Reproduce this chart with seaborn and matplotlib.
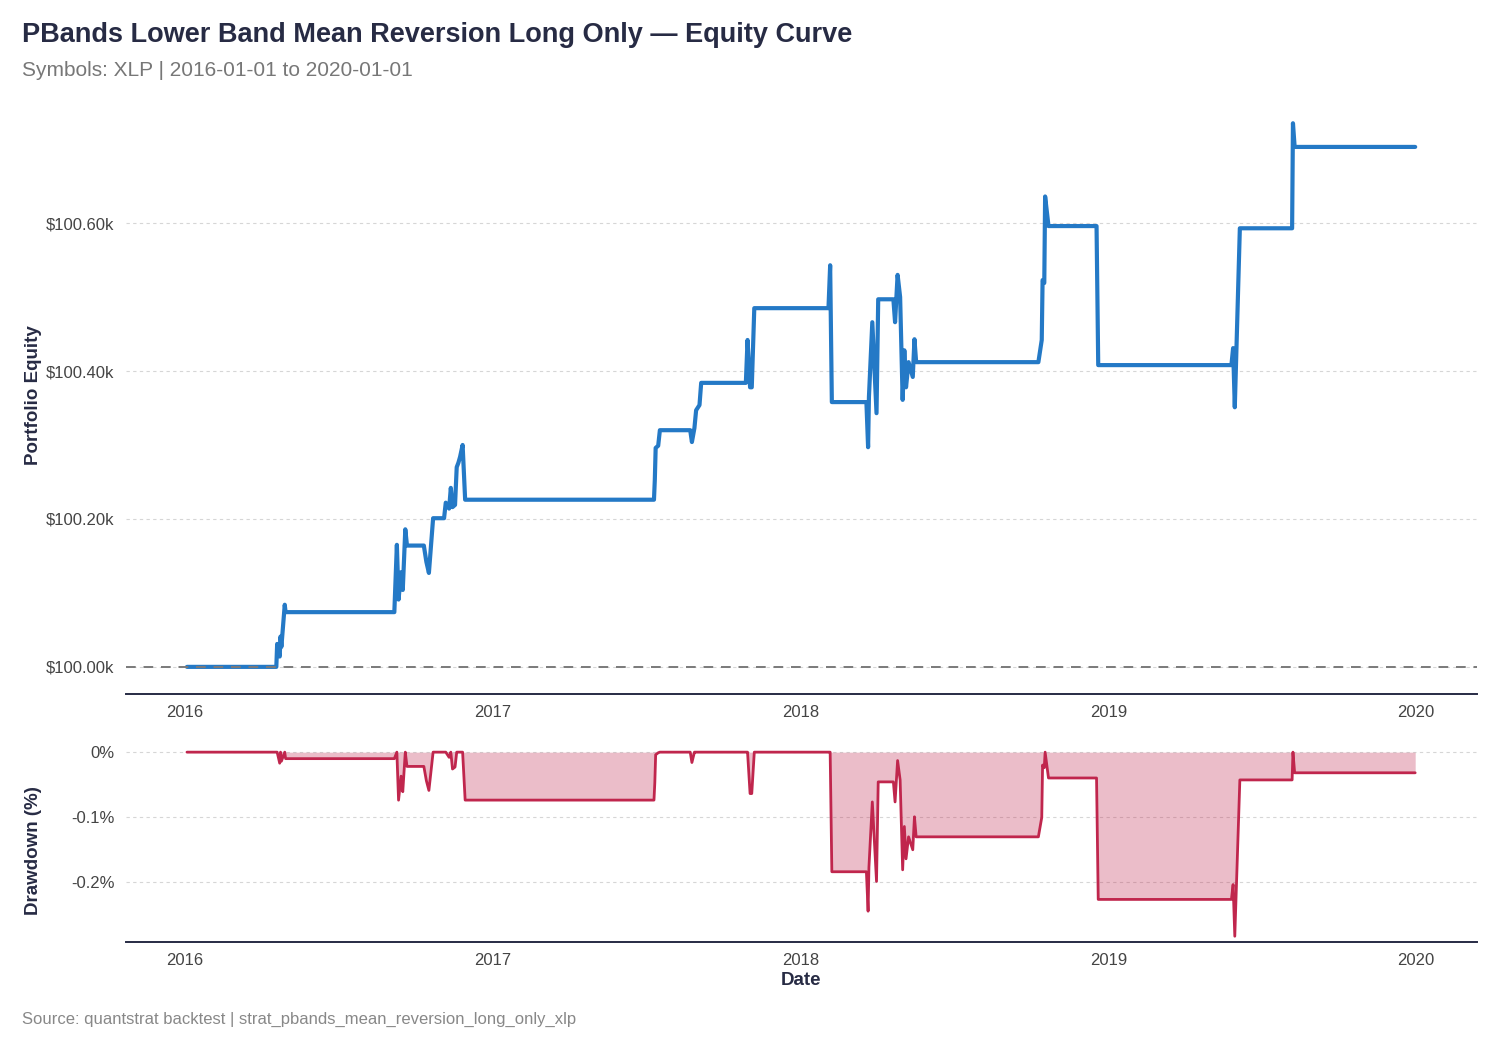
import matplotlib
matplotlib.use("Agg")
import matplotlib.pyplot as plt
import matplotlib.dates as mdates
from matplotlib.ticker import FuncFormatter, FixedLocator
import seaborn as sns
import pandas as pd

# equity curve (date, portfolio value)
dates = [
    "2016-01-04", "2016-04-19", "2016-04-20", "2016-04-23", "2016-04-24", "2016-04-25",
    "2016-04-29", "2016-04-30", "2016-09-06", "2016-09-09", "2016-09-11", "2016-09-14",
    "2016-09-16", "2016-09-19", "2016-09-21", "2016-10-11", "2016-10-14", "2016-10-17",
    "2016-10-22", "2016-11-04", "2016-11-06", "2016-11-10", "2016-11-12", "2016-11-14",
    "2016-11-17", "2016-11-19", "2016-11-21", "2016-11-23", "2016-11-26", "2016-11-29",
    "2017-07-11", "2017-07-12", "2017-07-13", "2017-07-16", "2017-07-18", "2017-08-23",
    "2017-08-25", "2017-08-28", "2017-08-30", "2017-09-03", "2017-09-05", "2017-10-28",
    "2017-10-30", "2017-11-02", "2017-11-04", "2017-11-07", "2018-02-03", "2018-02-05",
    "2018-02-07", "2018-03-20", "2018-03-22", "2018-03-23", "2018-03-27", "2018-04-01",
    "2018-04-03", "2018-04-21", "2018-04-23", "2018-04-26", "2018-04-29", "2018-05-02",
    "2018-05-04", "2018-05-06", "2018-05-09", "2018-05-14", "2018-05-16", "2018-05-18",
    "2018-10-10", "2018-10-14", "2018-10-15", "2018-10-17", "2018-10-18", "2018-10-22",
    "2018-12-18", "2018-12-20", "2019-05-27", "2019-05-29", "2019-05-31", "2019-06-06",
    "2019-08-07", "2019-08-08", "2019-08-10", "2019-12-31",
]
equity = [
    100000, 100000, 100031, 100014, 100041, 100027,
    100084, 100074, 100074, 100165, 100091, 100128,
    100104, 100186, 100164, 100164, 100142, 100127,
    100201, 100201, 100222, 100214, 100242, 100216,
    100219, 100270, 100276, 100284, 100300, 100226,
    100226, 100253, 100296, 100299, 100320, 100320,
    100304, 100323, 100347, 100354, 100384, 100384,
    100442, 100378, 100378, 100485, 100485, 100543,
    100358, 100358, 100297, 100365, 100466, 100343,
    100497, 100497, 100466, 100530, 100500, 100361,
    100428, 100378, 100412, 100392, 100443, 100412,
    100412, 100442, 100523, 100519, 100636, 100596,
    100596, 100408, 100408, 100431, 100351, 100593,
    100593, 100735, 100703, 100703,
]
initial_equity = 100000

df = pd.DataFrame({"Date": pd.to_datetime(dates), "Equity": equity})
df["Drawdown"] = (df["Equity"] / df["Equity"].cummax() - 1) * 100

NAVY = "#272b44"
BLUE = "#2479c6"
RED = "#c0264d"
GRID = "#d6d6d6"

sns.set_theme(style="white")
plt.rcParams["font.family"] = ["Liberation Sans", "DejaVu Sans"]

fig = plt.figure(figsize=(15, 10.5), dpi=100)
ax1 = fig.add_axes([0.0837, 0.339, 0.9007, 0.5695])
ax2 = fig.add_axes([0.0837, 0.1029, 0.9007, 0.1882])

# equity panel
sns.lineplot(data=df, x="Date", y="Equity", ax=ax1, color=BLUE, linewidth=3,
             estimator=None, sort=False)
ax1.axhline(initial_equity, color="#7a7a7a", linestyle=(0, (5, 4)), linewidth=1.4, zorder=3)
ax1.yaxis.set_major_locator(FixedLocator([100000, 100200, 100400, 100600]))
ax1.yaxis.set_major_formatter(FuncFormatter(lambda v, p: f"${v / 1000:.2f}k"))
ax1.set_ylabel("Portfolio Equity", fontsize=13.5, fontweight="bold", color=NAVY)
ax1.set_xlabel("")
ax1.margins(x=0.05, y=0.05)

# drawdown panel
ax2.fill_between(df["Date"], df["Drawdown"], 0, color=RED, alpha=0.3, linewidth=0)
sns.lineplot(data=df, x="Date", y="Drawdown", ax=ax2, color=RED, linewidth=2,
             estimator=None, sort=False)
ax2.yaxis.set_major_locator(FixedLocator([0, -0.1, -0.2]))
ax2.yaxis.set_major_formatter(FuncFormatter(lambda v, p: "0%" if abs(v) < 1e-9 else f"{v:.1f}%"))
ax2.set_ylabel("Drawdown (%)", fontsize=13.5, fontweight="bold", color=NAVY)
ax2.set_xlabel("Date", fontsize=13.5, fontweight="bold", color=NAVY)
ax2.margins(x=0.05)
ax2.set_ylim(-0.292, 0.012)

for ax in (ax1, ax2):
    ax.set_axisbelow(True)
    ax.yaxis.grid(True, color=GRID, linestyle=(0, (3, 3)), linewidth=0.8)
    ax.xaxis.grid(False)
    for s in ("top", "right", "left"):
        ax.spines[s].set_visible(False)
    ax.spines["bottom"].set_color(NAVY)
    ax.spines["bottom"].set_linewidth(1.4)
    ax.xaxis.set_major_locator(mdates.YearLocator())
    ax.xaxis.set_major_formatter(mdates.DateFormatter("%Y"))
    ax.tick_params(axis="both", length=0, labelsize=12, labelcolor="#444444", pad=8)

ax1.yaxis.set_label_coords(-0.062, 0.5)
ax2.yaxis.set_label_coords(-0.062, 0.46)
ax2.xaxis.labelpad = 3

fig.text(0.0147, 0.96, "PBands Lower Band Mean Reversion Long Only \u2014 Equity Curve",
         fontsize=19.5, fontweight="bold", color=NAVY, va="baseline")
fig.text(0.0147, 0.928, "Symbols: XLP | 2016-01-01 to 2020-01-01",
         fontsize=15, color="#777777", va="baseline")
fig.text(0.0147, 0.025, "Source: quantstrat backtest | strat_pbands_mean_reversion_long_only_xlp",
         fontsize=12, color="#888888", va="baseline")

fig.savefig("out.png", dpi=100)
